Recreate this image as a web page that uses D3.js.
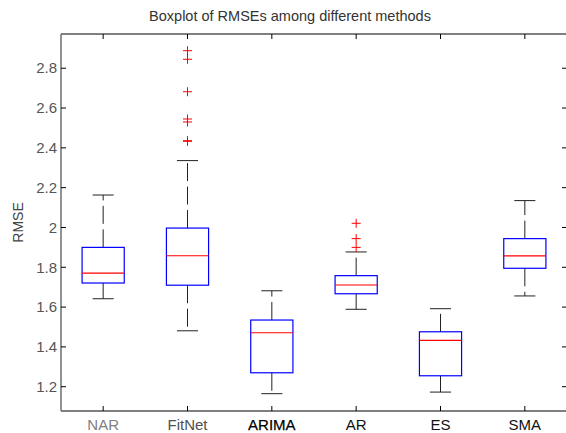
<!DOCTYPE html>
<html>
<head>
<meta charset="utf-8">
<script src="https://cdn.jsdelivr.net/npm/d3@7"></script>
<style>
  body { margin: 0; background: #fff; }
  svg { display: block; font-family: "Liberation Sans", Arial, sans-serif; }
</style>
</head>
<body>
<svg id="chart" width="566" height="433"></svg>
<script>
// data
const categories = ["NAR", "FitNet", "ARIMA", "AR", "ES", "SMA"];
const lowerWhisker = [1.642, 1.481, 1.165, 1.589, 1.173, 1.656];
const q1 = [1.721, 1.710, 1.270, 1.667, 1.255, 1.795];
const medians = [1.771, 1.858, 1.471, 1.711, 1.433, 1.857];
const q3 = [1.900, 1.997, 1.535, 1.758, 1.476, 1.944];
const upperWhisker = [2.163, 2.336, 1.682, 1.877, 1.592, 2.135];
const outliers = [
  [],
  [2.888, 2.845, 2.682, 2.545, 2.530, 2.436, 2.433],
  [],
  [2.021, 1.944, 1.900],
  [],
  []
];
const yTicks = [1.2, 1.4, 1.6, 1.8, 2.0, 2.2, 2.4, 2.6, 2.8];
const yDomain = [1.078, 2.972];

// label shading as it looks in the picture
const labelFill = ["#808080", "#505050", "#000", "#111", "#111", "#111"];

const margin = { left: 61, right: 567, top: 34, bottom: 411 };

const svg = d3.select("#chart");

const x = d3.scaleBand()
  .domain(categories)
  .range([margin.left, margin.right])
  .padding(0);

const y = d3.scaleLinear()
  .domain(yDomain)
  .range([margin.bottom, margin.top]);

const bw = x.bandwidth();
const cx = c => x(c) + bw / 2;

const boxes = categories.map((c, i) => ({
  name: c,
  lo: lowerWhisker[i],
  q1: q1[i],
  med: medians[i],
  q3: q3[i],
  hi: upperWhisker[i],
  out: outliers[i]
}));

/**
 * FRAME + TICKS
 */
const frame = svg.append("g");

frame.append("line")
  .attr("x1", margin.left).attr("x2", margin.right)
  .attr("y1", margin.top).attr("y2", margin.top)
  .attr("stroke", "#000");
frame.append("line")
  .attr("x1", margin.left).attr("x2", margin.right)
  .attr("y1", margin.bottom).attr("y2", margin.bottom)
  .attr("stroke", "#000");
frame.append("line")
  .attr("x1", margin.left).attr("x2", margin.left)
  .attr("y1", margin.top).attr("y2", margin.bottom)
  .attr("stroke", "#777").attr("stroke-width", 1.6);

// y ticks, left and right, pointing inward
frame.selectAll(".ytl").data(yTicks).enter().append("line")
  .attr("x1", margin.left).attr("x2", margin.left + 5)
  .attr("y1", d => y(d)).attr("y2", d => y(d))
  .attr("stroke", "#000");
frame.selectAll(".ytr").data(yTicks).enter().append("line")
  .attr("x1", margin.right - 5).attr("x2", margin.right)
  .attr("y1", d => y(d)).attr("y2", d => y(d))
  .attr("stroke", "#000");

// x ticks, top and bottom
frame.selectAll(".xtt").data(categories).enter().append("line")
  .attr("x1", d => cx(d)).attr("x2", d => cx(d))
  .attr("y1", margin.top).attr("y2", margin.top + 5)
  .attr("stroke", "#000");
frame.selectAll(".xtb").data(categories).enter().append("line")
  .attr("x1", d => cx(d)).attr("x2", d => cx(d))
  .attr("y1", margin.bottom - 5).attr("y2", margin.bottom)
  .attr("stroke", "#000");

// tick labels
frame.selectAll(".ylab").data(yTicks).enter().append("text")
  .attr("x", margin.left - 4)
  .attr("y", d => y(d))
  .attr("dy", "0.35em")
  .attr("text-anchor", "end")
  .attr("font-size", 15)
  .attr("fill", "#555")
  .text(d3.format("~g"));

frame.selectAll(".xlab").data(categories).enter().append("text")
  .attr("x", d => cx(d))
  .attr("y", 430)
  .attr("text-anchor", "middle")
  .attr("font-size", 15)
  .attr("fill", (d, i) => labelFill[i])
  .attr("stroke", (d, i) => i === 2 ? "#000" : "none")
  .attr("stroke-width", 0.25)
  .text(d => d);

svg.append("text")
  .attr("x", 290).attr("y", 21)
  .attr("text-anchor", "middle")
  .attr("font-size", 14.5)
  .attr("fill", "#333")
  .text("Boxplot of RMSEs among different methods");

svg.append("text")
  .attr("transform", `translate(23,${(margin.top + margin.bottom) / 2}) rotate(-90)`)
  .attr("text-anchor", "middle")
  .attr("font-size", 14)
  .attr("fill", "#444")
  .text("RMSE");

/**
 * BOXES
 */
const g = svg.append("g")
  .selectAll("g")
  .data(boxes)
  .enter().append("g");

// whiskers (dashed)
g.append("line")
  .attr("x1", d => cx(d.name)).attr("x2", d => cx(d.name))
  .attr("y1", d => y(d.q3)).attr("y2", d => y(d.hi))
  .attr("stroke", "#222").attr("stroke-dasharray", "18,5.5");
g.append("line")
  .attr("x1", d => cx(d.name)).attr("x2", d => cx(d.name))
  .attr("y1", d => y(d.q1)).attr("y2", d => y(d.lo))
  .attr("stroke", "#222").attr("stroke-dasharray", "18,5.5");

// caps
g.append("line")
  .attr("x1", d => cx(d.name) - bw * 0.125).attr("x2", d => cx(d.name) + bw * 0.125)
  .attr("y1", d => y(d.hi)).attr("y2", d => y(d.hi))
  .attr("stroke", "#222");
g.append("line")
  .attr("x1", d => cx(d.name) - bw * 0.125).attr("x2", d => cx(d.name) + bw * 0.125)
  .attr("y1", d => y(d.lo)).attr("y2", d => y(d.lo))
  .attr("stroke", "#222");

// box
g.append("rect")
  .attr("x", d => cx(d.name) - bw * 0.25)
  .attr("width", bw * 0.5)
  .attr("y", d => y(d.q3))
  .attr("height", d => y(d.q1) - y(d.q3))
  .attr("fill", "none")
  .attr("stroke", "#00f")
  .attr("stroke-width", 1.2);

// median
g.append("line")
  .attr("x1", d => cx(d.name) - bw * 0.25).attr("x2", d => cx(d.name) + bw * 0.25)
  .attr("y1", d => y(d.med)).attr("y2", d => y(d.med))
  .attr("stroke", "#f00")
  .attr("stroke-width", 1.2);

// outliers as "+"
g.selectAll("path.out")
  .data(d => d.out.map(v => ({ name: d.name, v })))
  .enter().append("path")
  .attr("class", "out")
  .attr("d", d => {
    const px = cx(d.name), py = y(d.v), s = 4.5;
    return `M${px - s},${py}H${px + s}M${px},${py - s}V${py + s}`;
  })
  .attr("stroke", "#f00")
  .attr("fill", "none");
</script>
</body>
</html>
